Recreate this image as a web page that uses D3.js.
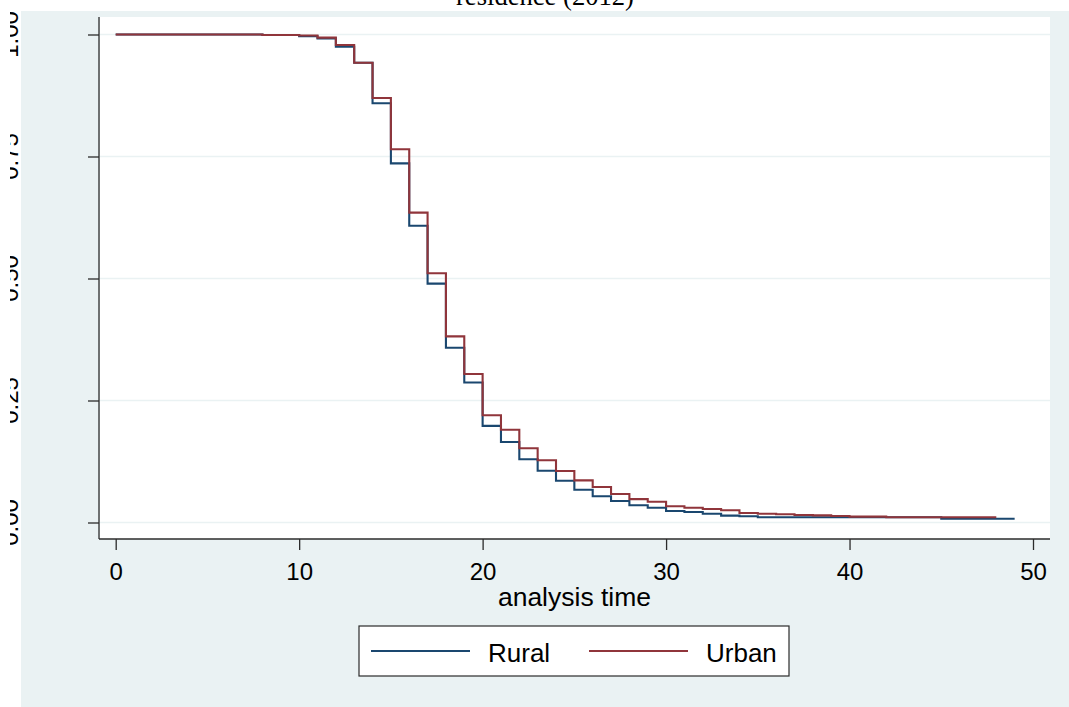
<!DOCTYPE html>
<html>
<head>
<meta charset="utf-8">
<script src="https://cdn.jsdelivr.net/npm/d3@7"></script>
<style>
  html, body { margin: 0; padding: 0; background: #ffffff; }
  svg { display: block; }
</style>
</head>
<body>
<div id="chart"></div>
<script>
// ---- data ----
const titleLines = ["Kaplan-Meier survival estimates, by place of", "residence (2012)"];
const xTicks = [0, 10, 20, 30, 40, 50];
const yTicks = [0, 0.25, 0.5, 0.75, 1];
const yTickLabels = ["0.00", "0.25", "0.50", "0.75", "1.00"];
const xTitle = "analysis time";
const seriesNames = ["Rural", "Urban"];
const seriesColors = ["#1a476f", "#90353b"];

const ruralTime = [0, 8, 10, 11, 12, 13, 14, 15, 16, 17, 18, 19, 20, 21, 22, 23, 24, 25, 26, 27, 28, 29, 30, 31, 32, 33, 34, 35, 45, 49];
const ruralSurv = [1, 0.999, 0.9965, 0.992, 0.975, 0.942, 0.859, 0.736, 0.608, 0.4894, 0.358, 0.287, 0.198, 0.165, 0.1295, 0.106, 0.0857, 0.0672, 0.0537, 0.0440, 0.0355, 0.0303, 0.0236, 0.0215, 0.018, 0.014, 0.0127, 0.0107, 0.0078, 0.0078];

const urbanTime = [0, 8, 10, 11, 12, 13, 14, 15, 16, 17, 18, 19, 20, 21, 22, 23, 24, 25, 26, 27, 28, 29, 30, 31, 32, 33, 34, 35, 36, 37, 38, 39, 40, 42, 48];
const urbanSurv = [1, 0.999, 0.998, 0.9935, 0.9785, 0.942, 0.870, 0.765, 0.635, 0.5107, 0.3815, 0.3043, 0.2197, 0.190, 0.152, 0.1275, 0.1055, 0.0864, 0.0727, 0.0585, 0.048, 0.0426, 0.0332, 0.0303, 0.0277, 0.025, 0.0195, 0.018, 0.0168, 0.0154, 0.0147, 0.0133, 0.012, 0.0107, 0.0107];

// ---- layout ----
const W = 1069, H = 707;
const bgColor = "#eaf2f3";
const plot = { left: 100, right: 1050, top: 17, bottom: 539 };
const axisColor = "#2b2b2b";
const sans = "'Liberation Sans', Arial, sans-serif";
const serif = "'Liberation Serif', 'Times New Roman', serif";

const svg = d3.select("#chart").append("svg")
  .attr("width", W).attr("height", H);

svg.append("defs").append("clipPath").attr("id", "ylabclip")
  .append("rect").attr("x", 10).attr("y", 0).attr("width", W).attr("height", H);

// graph background
svg.append("rect").attr("x", 21).attr("y", 11)
  .attr("width", W - 21).attr("height", H - 11).attr("fill", bgColor);

// title (first line sits above the visible page)
svg.append("g").selectAll("text").data(titleLines).join("text")
  .attr("x", 545)
  .attr("y", (d, i) => 5 - (titleLines.length - 1 - i) * 31)
  .attr("text-anchor", "middle")
  .attr("font-family", serif)
  .attr("font-size", 26.6)
  .attr("fill", "#000")
  .text(d => d);

// plot region
svg.append("rect").attr("x", plot.left).attr("y", plot.top)
  .attr("width", plot.right - plot.left).attr("height", plot.bottom - plot.top)
  .attr("fill", "#ffffff");

const x = d3.scaleLinear().domain([0, 50]).range([115.7, 1033]);
const y = d3.scaleLinear().domain([0, 1]).range([522.5, 34.5]);

// gridlines
svg.append("g").selectAll("line").data(yTicks).join("line")
  .attr("x1", plot.left).attr("x2", plot.right)
  .attr("y1", d => y(d)).attr("y2", d => y(d))
  .attr("stroke", bgColor).attr("stroke-width", 1.6);

// y axis
const yAxis = d3.axisLeft(y).tickValues(yTicks).tickSize(11)
  .tickFormat((d, i) => yTickLabels[i]);
const gy = svg.append("g").attr("transform", `translate(${plot.left - 1},0)`).call(yAxis);
gy.select(".domain").remove();
gy.selectAll(".tick line").attr("stroke", axisColor).attr("stroke-width", 1.3);
gy.selectAll(".tick text").remove();
svg.append("line").attr("x1", plot.left - 1).attr("x2", plot.left - 1)
  .attr("y1", plot.top).attr("y2", plot.bottom)
  .attr("stroke", axisColor).attr("stroke-width", 1.3);

svg.append("g").attr("clip-path", "url(#ylabclip)")
  .selectAll("text").data(yTicks).join("text")
  .attr("transform", d => `translate(17.5,${y(d)}) rotate(-90)`)
  .attr("text-anchor", "middle")
  .attr("font-family", sans).attr("font-size", 24).attr("fill", "#000")
  .text((d, i) => yTickLabels[i]);

// x axis
const xAxis = d3.axisBottom(x).tickValues(xTicks).tickSize(11).tickPadding(6)
  .tickFormat(d3.format("d"));
const gx = svg.append("g").attr("transform", `translate(0,${plot.bottom})`).call(xAxis);
gx.select(".domain").remove();
gx.selectAll(".tick line").attr("stroke", axisColor).attr("stroke-width", 1.3);
gx.selectAll(".tick text").attr("font-family", sans).attr("font-size", 24)
  .attr("fill", "#000").attr("dy", null).attr("y", 41);
svg.append("line").attr("x1", plot.left - 1).attr("x2", plot.right)
  .attr("y1", plot.bottom).attr("y2", plot.bottom)
  .attr("stroke", axisColor).attr("stroke-width", 1.3);

svg.append("text").attr("x", 574.5).attr("y", 606)
  .attr("text-anchor", "middle")
  .attr("font-family", sans).attr("font-size", 26.5).attr("fill", "#000")
  .text(xTitle);

// survival step lines
const series = [
  ruralTime.map((t, i) => [t, ruralSurv[i]]),
  urbanTime.map((t, i) => [t, urbanSurv[i]])
];
const line = d3.line().x(d => x(d[0])).y(d => y(d[1])).curve(d3.curveStepAfter);
svg.append("g").selectAll("path").data(series).join("path")
  .attr("d", line)
  .attr("fill", "none")
  .attr("stroke", (d, i) => seriesColors[i])
  .attr("stroke-width", 2.1)
  .attr("stroke-linejoin", "miter");

// legend
const legend = svg.append("g");
legend.append("rect").attr("x", 359).attr("y", 626)
  .attr("width", 430).attr("height", 50)
  .attr("fill", "#ffffff").attr("stroke", axisColor).attr("stroke-width", 1.2);
const keyX = [371, 589];
legend.selectAll("line.key").data(seriesNames).join("line")
  .attr("class", "key")
  .attr("x1", (d, i) => keyX[i]).attr("x2", (d, i) => keyX[i] + 99)
  .attr("y1", 651).attr("y2", 651)
  .attr("stroke", (d, i) => seriesColors[i]).attr("stroke-width", 2.1);
legend.selectAll("text").data(seriesNames).join("text")
  .attr("x", (d, i) => keyX[i] + 117).attr("y", 661.5)
  .attr("font-family", sans).attr("font-size", 26).attr("fill", "#000")
  .text(d => d);
</script>
</body>
</html>
